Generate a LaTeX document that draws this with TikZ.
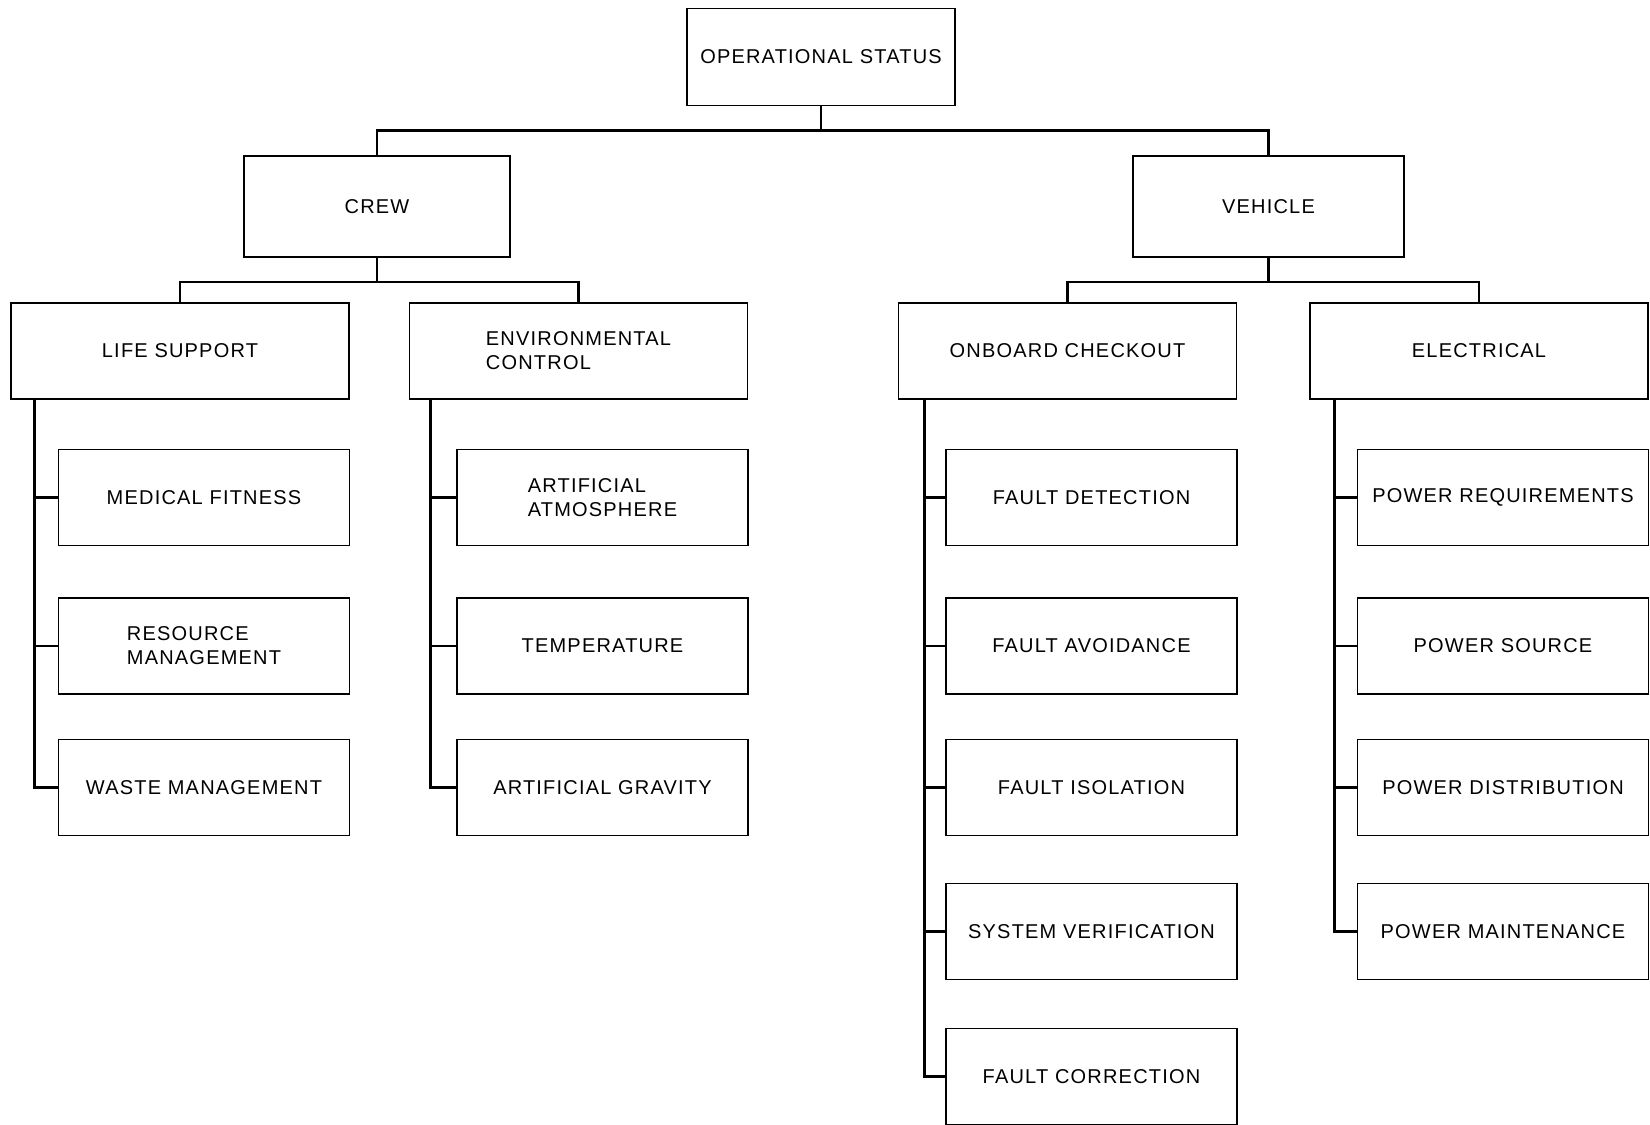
\documentclass[tikz,border=0pt]{standalone}
\usepackage{fontspec}
\setmainfont[LetterSpace=6]{Liberation Sans}
\usepackage{tikz}
\usetikzlibrary{calc,positioning}
\tikzset{%
	box/.style     = {draw, rectangle, line width=0.8pt, align=left, font=\fontsize{10}{12}\selectfont, inner sep=0pt},
	toplevel/.style= {box, minimum width=134pt, minimum height=48.5pt},
	midlevel/.style= {box, minimum width=133pt, minimum height=50.5pt},
	group/.style   = {box, minimum width=169pt, minimum height=48pt},
	leaf/.style    = {box, minimum width=145.5pt, minimum height=48pt},
	link/.style    = {line width=1.3pt},
}

\begin{document}
\begin{tikzpicture}[x=0.5pt,y=-0.5pt]
	\useasboundingbox (0,0) rectangle (1650,1125);
	% top of the tree
	\node[toplevel] (status) at (821,57) {OPERATIONAL STATUS};
	\node[midlevel] (crew) at (377,206.5) {CREW};
	\node[midlevel, minimum width=135.5pt] (vehicle) at (1268.5,206.5) {VEHICLE};
	
	% second level
	\node[group] (life) at (180,351) {LIFE SUPPORT};
	\node[group] (env) at (578.5,351) {ENVIRONMENTAL\\CONTROL};
	\node[group] (checkout) at (1067.5,351) {ONBOARD CHECKOUT};
	\node[group] (elec) at (1479,351) {ELECTRICAL};
	
	% leaves
	\node[leaf] (medical) at (204,497.5) {MEDICAL FITNESS};
	\node[leaf] (resource) at (204,646) {RESOURCE\\MANAGEMENT};
	\node[leaf] (waste) at (204,787.5) {WASTE MANAGEMENT};
	
	\node[leaf] (atmos) at (602.5,497.5) {ARTIFICIAL\\ATMOSPHERE};
	\node[leaf] (temp) at (602.5,646) {TEMPERATURE};
	\node[leaf] (gravity) at (602.5,787.5) {ARTIFICIAL GRAVITY};
	
	\node[leaf] (detect) at (1091.5,497.5) {FAULT DETECTION};
	\node[leaf] (avoid) at (1091.5,646) {FAULT AVOIDANCE};
	\node[leaf] (isol) at (1091.5,787.5) {FAULT ISOLATION};
	\node[leaf] (verif) at (1091.5,931.5) {SYSTEM VERIFICATION};
	\node[leaf] (correct) at (1091.5,1076.5) {FAULT CORRECTION};
	
	\node[leaf] (powreq) at (1503,497.5) {POWER REQUIREMENTS};
	\node[leaf] (powsrc) at (1503,646) {POWER SOURCE};
	\node[leaf] (powdist) at (1503,787.5) {POWER DISTRIBUTION};
	\node[leaf] (powmaint) at (1503,931.5) {POWER MAINTENANCE};
	
	% buses
	\coordinate (bus0) at (status.south |- 0,130.5);
	\draw[link] (status.south) -- (bus0) -| (crew.north);
	\draw[link] (bus0) -| (vehicle.north);
	\coordinate (bus1) at (crew.south |- 0,282);
	\draw[link] (crew.south) -- (bus1) -| (life.north);
	\draw[link] (bus1) -| (env.north);
	\coordinate (bus2) at (vehicle.south |- 0,282);
	\draw[link] (vehicle.south) -- (bus2) -| (checkout.north);
	\draw[link] (bus2) -| (elec.north);
	
	% trunks down the left side
	\foreach \c in {medical,resource,waste}
		\draw[link] ($(life.south west)+(24,0)$) |- (\c.west);
	\foreach \c in {atmos,temp,gravity}
		\draw[link] ($(env.south west)+(22,0)$) |- (\c.west);
	\foreach \c in {detect,avoid,isol,verif,correct}
		\draw[link] ($(checkout.south west)+(27,0)$) |- (\c.west);
	\foreach \c in {powreq,powsrc,powdist,powmaint}
		\draw[link] ($(elec.south west)+(25,0)$) |- (\c.west);
\end{tikzpicture}
\end{document}
